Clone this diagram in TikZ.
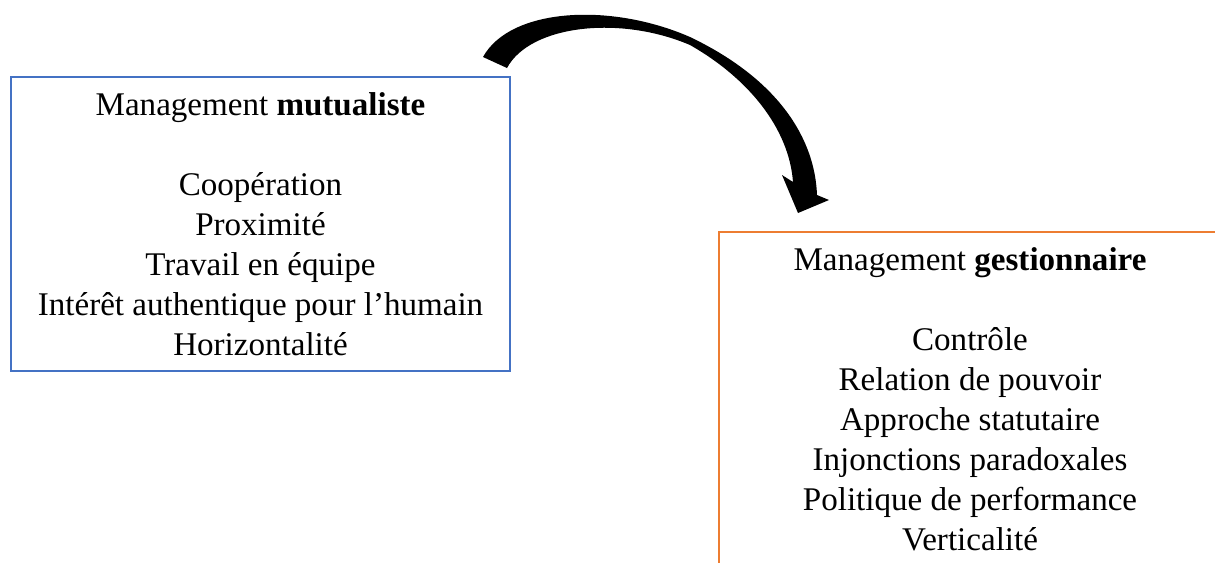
\documentclass[tikz,border=0pt]{standalone}
\usepackage{fontspec}
\setmainfont{Liberation Serif}
\usepackage{xcolor}
\usetikzlibrary{positioning,calc}
\definecolor{wordblue}{RGB}{68,114,196}
\definecolor{wordorange}{RGB}{237,125,49}

\begin{document}
\begin{tikzpicture}[x=0.75pt, y=-0.75pt,
  mgt/.style={rectangle, line width=1.3pt, align=center, inner sep=0pt,
    font=\fontsize{24.8}{30}\selectfont},
  curvearr/.style={fill=black, draw=none}]
\useasboundingbox (0,0) rectangle (1215,562);
\clip (0,0) rectangle (1215,562);
\node[mgt, draw=wordblue, minimum width=374pt, minimum height=220.5pt] (mutual) at (260.5,224)
  {Management \textbf{mutualiste}\\[30pt]
   Coopération\\ Proximité\\ Travail en équipe\\ Intérêt authentique pour l’humain\\ Horizontalité};
\node[mgt, draw=wordorange, minimum width=376.5pt, minimum height=250.5pt] (gestion) at (970,399)
  {Management \textbf{gestionnaire}\\[30pt]
   Contrôle\\ Relation de pouvoir\\ Approche statutaire\\ Injonctions paradoxales\\ Politique de performance\\ Verticalité};
% curved arrow from mutual to gestion
\fill[curvearr] (483,57) .. controls (510,8) and (610,2) .. (690,37)
  .. controls (780,80) and (815,140) .. (817,195)
  -- (829,200) -- (798,213) -- (782,175) -- (793,182)
  .. controls (789,128) and (748,78) .. (690,45)
  .. controls (620,15) and (530,25) .. (507,68) -- cycle;
\end{tikzpicture}
\end{document}
